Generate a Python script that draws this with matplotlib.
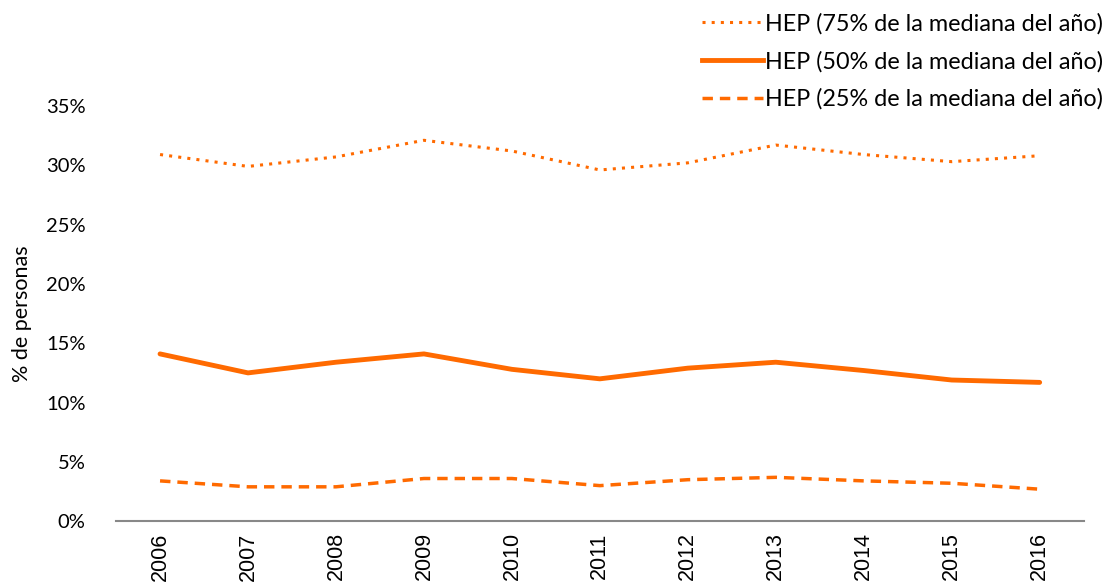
import matplotlib.pyplot as plt
from matplotlib.lines import Line2D

years = ["2006", "2007", "2008", "2009", "2010", "2011", "2012", "2013", "2014", "2015", "2016"]
hep75 = [30.9, 29.9, 30.7, 32.1, 31.2, 29.6, 30.2, 31.7, 30.9, 30.3, 30.8]
hep50 = [14.1, 12.5, 13.4, 14.1, 12.8, 12.0, 12.9, 13.4, 12.7, 11.9, 11.7]
hep25 = [3.4, 2.9, 2.9, 3.6, 3.6, 3.0, 3.5, 3.7, 3.4, 3.2, 2.7]
labels = ["HEP (75% de la mediana del año)",
          "HEP (50% de la mediana del año)",
          "HEP (25% de la mediana del año)"]
yticks = [0, 5, 10, 15, 20, 25, 30, 35]

orange = "#FF6A00"
plt.rcParams['font.family'] = ['Lato', 'DejaVu Sans']

fig = plt.figure(figsize=(11.16, 5.85), dpi=100)
ax = fig.add_axes([0.104, 0.109, 0.867, 0.71])

x = list(range(len(years)))
ax.plot(x, hep75, color=orange, linestyle=(0, (1, 2)), linewidth=2.2)
ax.plot(x, hep50, color=orange, linestyle='-', linewidth=3.5, solid_capstyle='round')
ax.plot(x, hep25, color=orange, linestyle=(0, (3, 2)), linewidth=2.5)

ax.set_xlim(-0.5, len(years) - 0.5)
ax.set_ylim(0, 35)
ax.set_yticks(yticks)
ax.set_yticklabels([f"{v}%" for v in yticks], fontsize=14.5)
ax.set_xticks(x)
ax.set_xticklabels(years, rotation=90, fontsize=15.5, family='Liberation Sans')
ax.tick_params(axis='y', length=0, pad=22)
ax.tick_params(axis='x', length=0, pad=8)

for s in ['top', 'right', 'left']:
    ax.spines[s].set_visible(False)
ax.spines['bottom'].set_color('#888888')
ax.spines['bottom'].set_linewidth(1.5)

ax.set_ylabel("% de personas", fontsize=15.5, labelpad=10)

handles = [
    Line2D([0], [0], color=orange, linestyle=(0, (1, 2)), linewidth=2.2),
    Line2D([0], [0], color=orange, linestyle='-', linewidth=3.5),
    Line2D([0], [0], color=orange, linestyle=(0, (3, 2)), linewidth=2.5),
]
fig.legend(handles, labels, loc='upper right', bbox_to_anchor=(1.0, 1.0),
           frameon=False, fontsize=16.8, handlelength=2.6, handletextpad=0.1,
           labelspacing=0.7, borderaxespad=0.15)

fig.savefig("out.png", dpi=100)
